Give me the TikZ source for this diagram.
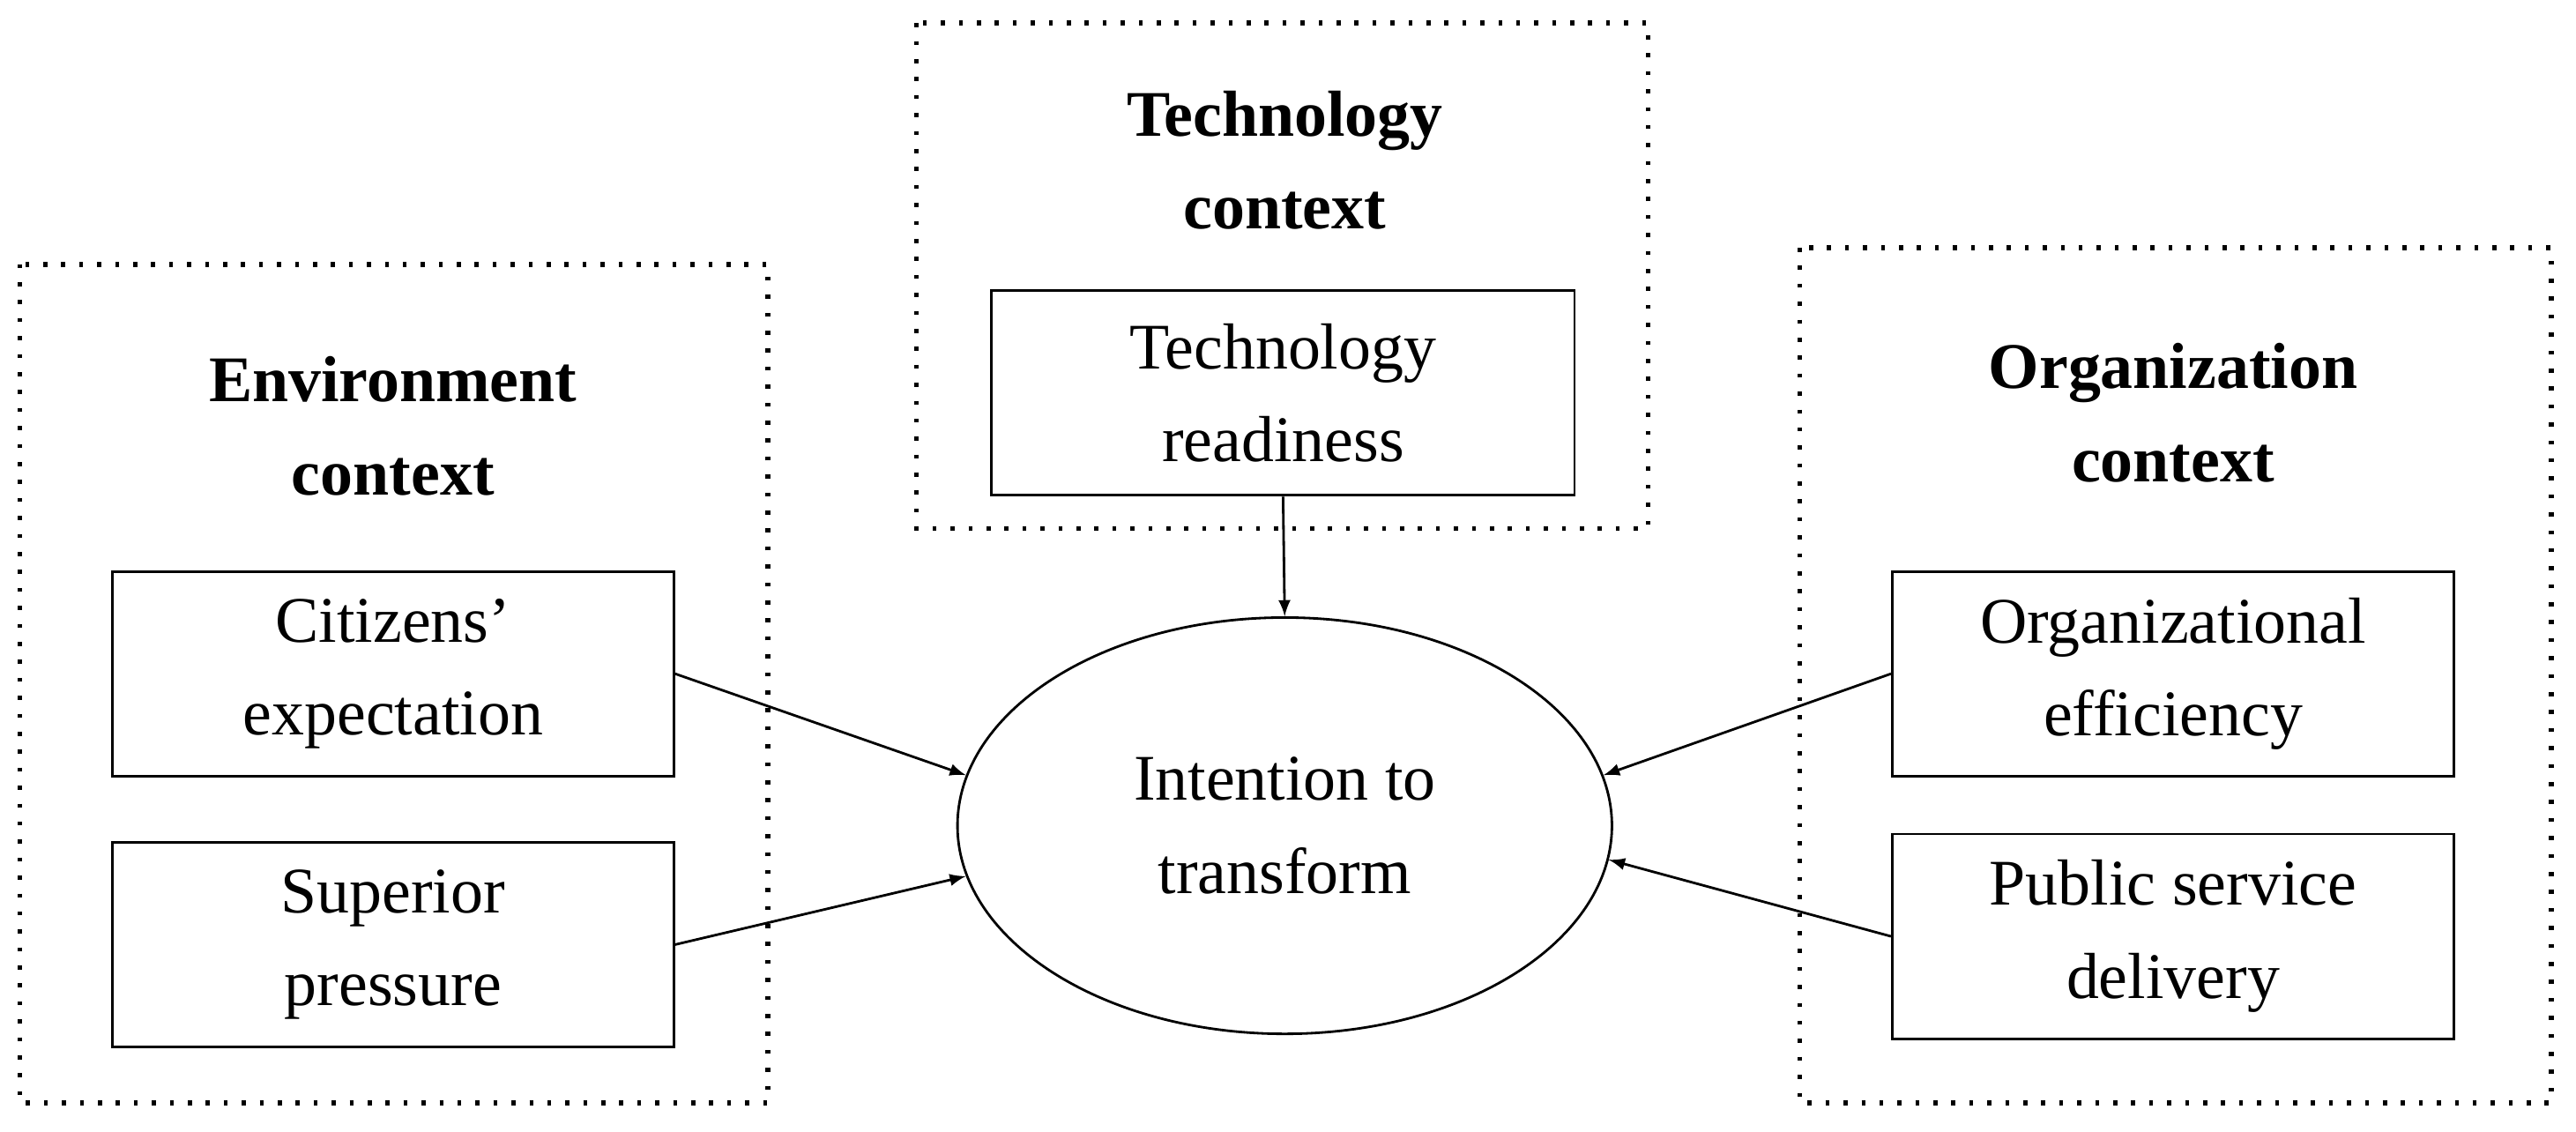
\documentclass[tikz,border=0pt]{standalone}
\usepackage{fontspec}
\setmainfont{Liberation Serif}
\usepackage{tikz}
\usetikzlibrary{shapes.geometric}

\tikzset{
  factor/.style = {draw, line width=0.8pt, minimum width=6.37cm, minimum height=2.32cm,
                   align=center, font=\fontsize{21}{30}\selectfont},
  ctx/.style = {line width=1.6pt, dash pattern=on 1.3pt off 4.5pt},
  ctxlabel/.style = {align=center, font=\fontsize{21}{30}\selectfont\bfseries},
  link/.style = {-latex, line width=0.8pt}
}

\begin{document}
\begin{tikzpicture}[x=0.01873cm, y=-0.01873cm]
       \useasboundingbox (0, 0) rectangle (1560, 685);
       % 三个背景框
       \draw [ctx] (12, 160) rectangle (465, 668);
       \draw [ctx] (555, 14) rectangle (998, 320);
       \draw [ctx] (1090, 150) rectangle (1545, 668);

       % 背景标题
       \node [ctxlabel] (envlabel) at (238, 258) {Environment\\context};
       \node [ctxlabel] (techlabel) at (778, 97) {Technology\\context};
       \node [ctxlabel] (orglabel) at (1316, 250) {Organization\\context};

       % 因素
       \node [factor] (citizens) at (238, 408) {Citizens'\\expectation};
       \node [factor] (superior) at (238, 572) {Superior\\pressure};
       \node [factor, minimum width=6.61cm] (readiness) at (777, 238) {Technology\\readiness};
       \node [factor] (efficiency) at (1316, 408) {Organizational\\efficiency};
       \node [factor] (delivery) at (1316, 567) {Public service\\delivery};

       % 中心
       \node [draw, ellipse, line width=0.8pt, minimum width=7.42cm, minimum height=4.72cm,
              inner sep=0pt, align=center, font=\fontsize{21}{30}\selectfont]
             (intention) at (778, 500) {Intention to\\transform};

       % 箭头
       \draw [link] (citizens.east) -- (intention.171);
       \draw [link] (superior.east) -- (intention.189);
       \draw [link] (readiness.south) -- (intention.north);
       \draw [link] (efficiency.west) -- (intention.9);
       \draw [link] (delivery.west) -- (intention.354);
\end{tikzpicture}
\end{document}
